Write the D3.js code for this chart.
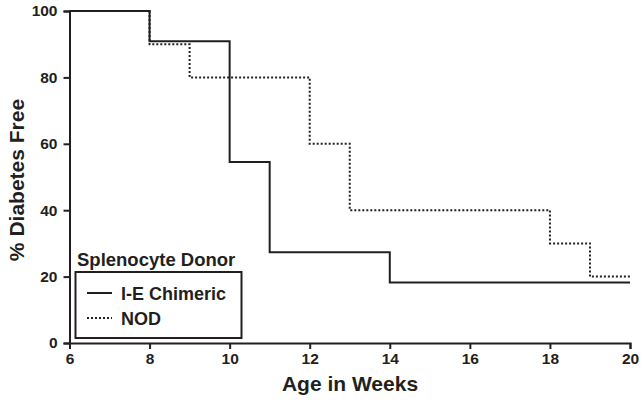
<!DOCTYPE html>
<html><head><meta charset="utf-8">
<script src="https://cdn.jsdelivr.net/npm/d3@7"></script>
<style>body{margin:0;background:#fff}svg{display:block}text{font-family:"Liberation Sans",Arial,sans-serif;font-weight:bold;fill:#231f20}</style>
</head><body><svg id="c" width="641" height="404"></svg>
<script>
const ieWeeks = [6, 8, 10, 11, 14, 20];
const ieValues = [100, 90.9, 54.5, 27.3, 18.2, 18.2];
const nodWeeks = [6, 8, 9, 12, 13, 18, 19, 20];
const nodValues = [100, 90, 80, 60, 40, 30, 20, 20];
const xTicks = [6, 8, 10, 12, 14, 16, 18, 20];
const yTicks = [0, 20, 40, 60, 80, 100];
const seriesNames = ["I-E Chimeric", "NOD"];

const svg = d3.select("#c");
const x = d3.scaleLinear().domain([6, 20]).range([69.5, 630]);
const y = d3.scaleLinear().domain([0, 100]).range([343, 11]);
const ink = "#231f20";

const xAxis = svg.append("g").attr("transform", "translate(0,343)")
  .call(d3.axisBottom(x).tickValues(xTicks).tickSize(6).tickPadding(4).tickFormat(d3.format("d")));
const yAxis = svg.append("g").attr("transform", "translate(69.5,0)")
  .call(d3.axisLeft(y).tickValues(yTicks).tickSize(6).tickPadding(6).tickFormat(d3.format("d")));
[xAxis, yAxis].forEach(a => {
  a.attr("font-size", 15.5).attr("font-family", "Liberation Sans, Arial, sans-serif");
  a.select(".domain").attr("stroke", ink).attr("stroke-width", 2);
  a.selectAll(".tick line").attr("stroke", ink).attr("stroke-width", 2);
  a.selectAll(".tick text").attr("font-weight", "bold").attr("fill", ink);
});

const line = d3.line().x(d => x(d[0])).y(d => y(d[1])).curve(d3.curveStepAfter);
svg.append("path").datum(nodWeeks.map((w, i) => [w, nodValues[i]]))
  .attr("d", line).attr("fill", "none").attr("stroke", ink).attr("stroke-width", 2).attr("stroke-dasharray", "2,2");
svg.append("path").datum(ieWeeks.map((w, i) => [w, ieValues[i]]))
  .attr("d", line).attr("fill", "none").attr("stroke", ink).attr("stroke-width", 2);

svg.append("text").attr("x", 350).attr("y", 391).attr("text-anchor", "middle").attr("font-size", 21).text("Age in Weeks");
svg.append("text").attr("transform", "translate(24,180) rotate(-90)").attr("text-anchor", "middle").attr("font-size", 21).text("% Diabetes Free");

// legend
const lg = svg.append("g");
lg.append("text").attr("x", 77).attr("y", 266).attr("font-size", 18.5).text("Splenocyte Donor");
lg.append("rect").attr("x", 75.5).attr("y", 272).attr("width", 166).attr("height", 66).attr("fill", "#fff").attr("stroke", ink).attr("stroke-width", 2);
seriesNames.forEach((n, i) => {
  const yy = 293 + i * 25;
  lg.append("line").attr("x1", 87).attr("x2", 112).attr("y1", yy).attr("y2", yy)
    .attr("stroke", ink).attr("stroke-width", 2).attr("stroke-dasharray", i === 1 ? "2,2" : null);
  lg.append("text").attr("x", 121).attr("y", yy + 6.5).attr("font-size", 18).text(n);
});
</script></body></html>
